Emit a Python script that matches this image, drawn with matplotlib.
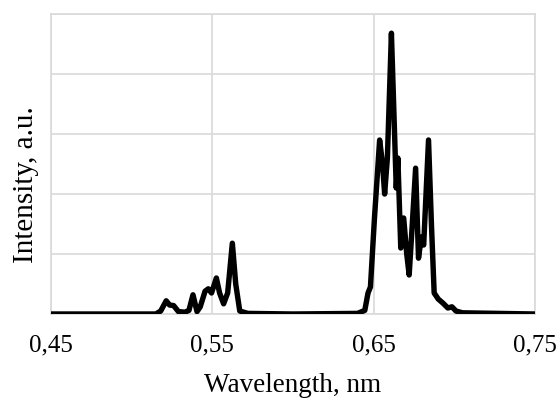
import matplotlib
matplotlib.use("Agg")
import matplotlib.pyplot as plt
import numpy as np

# spectrum (wavelength in um, intensity in a.u.)
wavelength = [0.45, 0.515, 0.518, 0.5214, 0.5235, 0.526, 0.529, 0.533, 0.5355,
              0.538, 0.5405, 0.5425, 0.5455, 0.5475, 0.5495, 0.5525, 0.5545,
              0.557, 0.5595, 0.5624, 0.5645, 0.567, 0.572, 0.60, 0.64, 0.6445,
              0.6465, 0.648, 0.6505, 0.6537, 0.6555, 0.6568, 0.6585, 0.661,
              0.6625, 0.664, 0.665, 0.6668, 0.6686, 0.6705, 0.672, 0.6735,
              0.676, 0.6778, 0.6795, 0.681, 0.684, 0.6858, 0.6875, 0.69,
              0.693, 0.696, 0.6985, 0.701, 0.705, 0.75]
intensity = [0.0, 0.0, 0.05, 0.22, 0.15, 0.14, 0.04, 0.03, 0.06,
             0.32, 0.04, 0.12, 0.38, 0.42, 0.35, 0.6, 0.35,
             0.17, 0.35, 1.18, 0.5, 0.05, 0.01, 0.0, 0.01, 0.06,
             0.35, 0.45, 1.6, 2.9, 2.5, 2.0, 2.6, 4.68,
             3.4, 2.1, 2.6, 1.1, 1.6, 1.0, 0.65, 1.3,
             2.43, 0.93, 1.28, 1.15, 2.9, 1.5, 0.35, 0.25,
             0.18, 0.1, 0.12, 0.05, 0.02, 0.0]

xticks = [0.45, 0.55, 0.65, 0.75]
xtick_labels = ["0,45", "0,55", "0,65", "0,75"]

plt.rcParams['font.family'] = ['Liberation Serif', 'DejaVu Serif']

fig = plt.figure(figsize=(5.58, 3.98), dpi=100)
ax = fig.add_axes([51/558, 84/398, 484/558, 300/398])

grid_col = '#d9d9d9'
ax.plot(wavelength, intensity, color='black', lw=3.9,
        solid_joinstyle='round', solid_capstyle='butt', zorder=3)

ax.set_xlim(0.45, 0.75)
ax.set_ylim(0, 5)
ax.set_xticks(xticks)
ax.set_xticklabels(xtick_labels)
ax.set_yticks(np.arange(0, 6, 1))
ax.set_yticklabels([])
ax.tick_params(axis='both', length=0, labelsize=18, pad=15)
ax.grid(True, color=grid_col, lw=1.2)
ax.set_axisbelow(True)
for s in ax.spines.values():
    s.set_color(grid_col)
    s.set_linewidth(1.2)

ax.set_xlabel("Wavelength, nm", fontsize=19.5)
ax.xaxis.set_label_coords(0.5, -0.198)
ax.set_ylabel("Intensity, a.u.", fontsize=21)
ax.yaxis.set_label_coords(-0.025, 0.43)

fig.savefig("out.png", dpi=100)
